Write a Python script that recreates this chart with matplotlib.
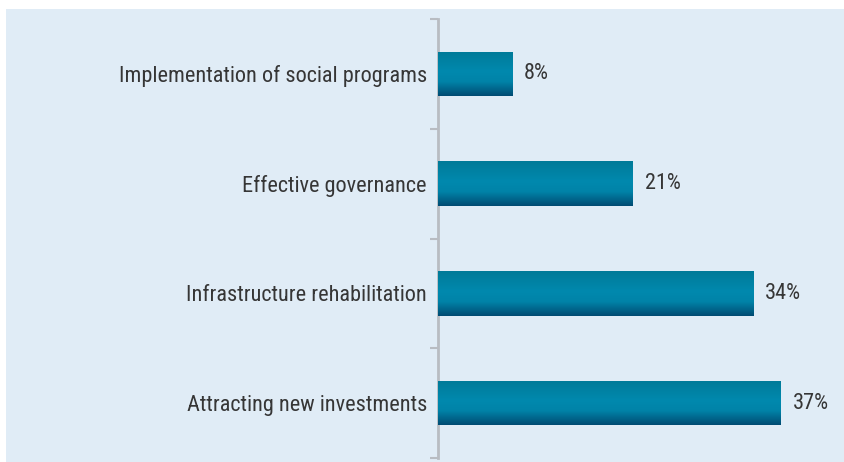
import numpy as np
import matplotlib
matplotlib.use("Agg")
import matplotlib.pyplot as plt
from matplotlib.colors import LinearSegmentedColormap
from matplotlib.patches import Rectangle

categories = [
    "Implementation of social programs",
    "Effective governance",
    "Infrastructure rehabilitation",
    "Attracting new investments",
]
values = [8, 21, 34, 37]
value_labels = ["8%", "21%", "34%", "37%"]

plt.rcParams["font.family"] = ["Roboto Condensed", "Roboto", "DejaVu Sans"]
FS = 16
TEXT_COLOR = "#363636"

W, H = 844, 462
fig = plt.figure(figsize=(W / 100, H / 100), dpi=100)
fig.patch.set_facecolor("white")

# light blue panel behind the chart
fig.patches.append(Rectangle((6 / W, 0), 1 - 6 / W, (H - 9) / H,
                             transform=fig.transFigure, facecolor="#e0ecf6",
                             edgecolor="none", zorder=-5))

left, right = 438 / W, 1.0
bottom, top = (H - 458) / H, (H - 19) / H
ax = fig.add_axes([left, bottom, right - left, top - bottom])
ax.set_zorder(5)
ax.set_facecolor("none")

px_per_unit = (781 - 438) / 37
xmax = (W - 438) / px_per_unit
n = len(categories)

bar_h = 0.405
ypos = np.arange(n)
bars = ax.barh(ypos, values, height=bar_h, color="#0088ad", zorder=2)

# vertical gradient fill for each bar
cmap = LinearSegmentedColormap.from_list(
    "bar", [(0.0, "#007a98"), (0.45, "#0089ae"), (0.68, "#0083a8"), (1.0, "#004b72")])
grad = np.linspace(0, 1, 256).reshape(-1, 1)
for b in bars:
    x0, y0 = b.get_x(), b.get_y()
    w, h = b.get_width(), b.get_height()
    im = ax.imshow(grad, cmap=cmap, aspect="auto", interpolation="bilinear",
                   extent=(x0, x0 + w, y0 + h, y0), zorder=3)
    im.set_clip_path(b)
    b.set_facecolor("none")

for y, v, lab in zip(ypos, values, value_labels):
    ax.text(v + 12 / px_per_unit, y, lab, va="center", ha="left",
            fontsize=FS, color=TEXT_COLOR, zorder=4)

ax.set_xlim(0, xmax)
ax.set_ylim(n - 0.5, -0.5)

for s in ["top", "right", "bottom"]:
    ax.spines[s].set_visible(False)
ax.spines["left"].set_color("#b8bcc2")
ax.spines["left"].set_linewidth(2)
ax.set_xticks([])

ax.set_yticks(ypos)
ax.set_yticklabels(categories, fontsize=FS, color=TEXT_COLOR)
ax.tick_params(axis="y", which="major", length=0, pad=8)
ax.set_yticks(np.arange(-0.5, n, 1.0), minor=True)
ax.tick_params(axis="y", which="minor", length=6, width=1.5, color="#b8bcc2",
               direction="out")

fig.savefig("out.png", dpi=100)
